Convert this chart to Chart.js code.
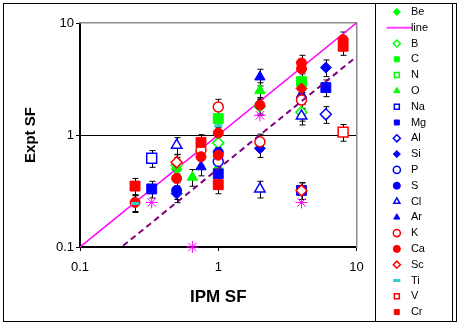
<!DOCTYPE html>
<html>
<head>
<meta charset="utf-8">
<script src="https://cdn.jsdelivr.net/npm/chart.js@4/dist/chart.umd.min.js"></script>
<style>
  html, body { margin: 0; padding: 0; background: #fff; }
  #wrap { width: 462px; height: 324px; }
</style>
</head>
<body>
<div id="wrap"><canvas id="sf"></canvas></div>
<script>
// [IPM SF, Expt SF] pairs
const BE = [[0.5, 0.49], [1, 0.5]];
const LINE = [[0.1, 0.1], [10, 10]];
const B = [[0.5, 0.54], [1, 0.85], [2, 1.8], [4, 1.6]];
const C = [[1, 1.4], [4, 3.0]];
const N = [];
const O = [[0.5, 0.52], [0.65, 0.42], [2, 2.5]];
const NA = [[0.33, 0.62]];
const MG = [[0.33, 0.33], [1, 0.45], [4, 0.32], [6, 2.65]];
const AL = [[6, 1.53]];
const SI = [[0.5, 0.3], [2, 0.76], [6, 4.0]];
const P = [[1, 0.58]];
const S = [[0.5, 0.32], [1, 0.7]];
const CL = [[0.5, 0.81], [2, 0.33], [4, 1.48]];
const AR = [[0.75, 0.52], [2, 3.3], [4, 2.3]];
const K = [[0.75, 0.73], [1, 1.78], [2, 0.87], [4, 2.05]];
const CA = [[0.25, 0.25], [0.5, 0.41], [0.75, 0.64], [1, 1.04], [1, 0.66], [2, 1.85], [4, 4.4], [4, 3.9], [8, 7.1]];
const SC = [[0.5, 0.57], [4, 0.32]];
const TI = [[0.25, 0.245], [1, 1.21]];
const V = [[8, 1.06]];
const CR = [[0.25, 0.35], [0.75, 0.86], [1, 0.36], [8, 6.2]];
// series beyond the visible legend
const STAR = [[0.33, 0.25], [0.65, 0.1], [2, 1.5], [4, 0.25]];
const RED_DIAMOND = [[4, 2.6]];
const HALF_LINE = [[0.18, 0.09], [10, 5]];

const TICKS = [0.1, 1, 10];
const ERR = 0.17;

const GREEN = '#00FF00', BLUE = '#0000FF', RED = '#FF0000', MAGENTA = '#FF00FF';

const pts = (a) => a.map(([x, y]) => ({ x: x, y: y }));

function marker(label, data, color, style, open, radius) {
  return {
    label: label,
    data: pts(data),
    pointStyle: style,
    pointRadius: radius,
    pointBackgroundColor: open ? '#fff' : color,
    pointBorderColor: color,
    pointBorderWidth: open ? 1.5 : 1,
    backgroundColor: open ? '#fff' : color,
    borderColor: color,
    borderWidth: open ? 1.5 : 1,
    showLine: false,
    errorBars: true
  };
}

const lineIcon = document.createElement('canvas');
lineIcon.width = 30;
lineIcon.height = 4;
const lg = lineIcon.getContext('2d');
lg.strokeStyle = MAGENTA;
lg.lineWidth = 1.5;
lg.beginPath();
lg.moveTo(0, 2);
lg.lineTo(30, 2);
lg.stroke();

const datasets = [
  marker('Be', BE, GREEN, 'rectRot', false, 5),
  {
    label: 'line', data: pts(LINE), showLine: true, borderColor: MAGENTA, borderWidth: 1.5,
    backgroundColor: MAGENTA, pointRadius: 0, pointStyle: lineIcon
  },
  marker('B', B, GREEN, 'rectRot', true, 5.5),
  marker('C', C, GREEN, 'rect', false, 7),
  marker('N', N, GREEN, 'rect', true, 7),
  marker('O', O, GREEN, 'triangle', false, 6),
  marker('Na', NA, BLUE, 'rect', true, 7),
  marker('Mg', MG, BLUE, 'rect', false, 7),
  marker('Al', AL, BLUE, 'rectRot', true, 5.5),
  marker('Si', SI, BLUE, 'rectRot', false, 5.5),
  marker('P', P, BLUE, 'circle', true, 5),
  marker('S', S, BLUE, 'circle', false, 5),
  marker('Cl', CL, BLUE, 'triangle', true, 6),
  marker('Ar', AR, BLUE, 'triangle', false, 6),
  marker('K', K, RED, 'circle', true, 5),
  marker('Ca', CA, RED, 'circle', false, 5),
  marker('Sc', SC, RED, 'rectRot', true, 5.5),
  Object.assign(marker('Ti', TI, '#33CCCC', 'line', false, 4), { pointBorderWidth: 3, borderWidth: 3 }),
  marker('V', V, RED, 'rect', true, 7),
  marker('Cr', CR, RED, 'rect', false, 7),
  Object.assign(marker('Mn', STAR, MAGENTA, 'star', false, 6), { hideLegend: true, clip: false, errorBars: false }),
  Object.assign(marker('Fe', RED_DIAMOND, RED, 'rectRot', false, 5.5), { hideLegend: true }),
  {
    label: 'half', data: pts(HALF_LINE), showLine: true, borderColor: '#800080', borderWidth: 2,
    borderDash: [6, 4], pointRadius: 0, hideLegend: true
  }
];
// later series sit on top, as in the source sheet
datasets.forEach((d, i) => { d.order = -i; });

const errorBars = {
  id: 'errorBars',
  beforeDatasetsDraw(chart) {
    const { ctx, scales: { x, y } } = chart;
    ctx.save();
    ctx.strokeStyle = '#000';
    ctx.lineWidth = 1;
    chart.data.datasets.forEach((ds) => {
      if (!ds.errorBars) return;
      ds.data.forEach((p) => {
        const px = Math.round(x.getPixelForValue(p.x)) + 0.5;
        const top = y.getPixelForValue(p.y * (1 + ERR));
        const bot = y.getPixelForValue(p.y * (1 - ERR));
        ctx.beginPath();
        ctx.moveTo(px, top); ctx.lineTo(px, bot);
        ctx.moveTo(px - 3, top); ctx.lineTo(px + 3, top);
        ctx.moveTo(px - 3, bot); ctx.lineTo(px + 3, bot);
        ctx.stroke();
      });
    });
    ctx.restore();
  }
};

const frames = {
  id: 'frames',
  afterDraw(chart) {
    const ctx = chart.ctx;
    ctx.save();
    ctx.strokeStyle = '#000';
    ctx.lineWidth = 1;
    ctx.strokeRect(3.5, 3.5, 453, 318);
    ctx.strokeRect(375.5, 3.5, 77, 318);
    ctx.restore();
  }
};

const onlyTicks = (scale) => { scale.ticks = TICKS.map((v) => ({ value: v })); };

new Chart(document.getElementById('sf'), {
  type: 'scatter',
  data: { datasets: datasets },
  plugins: [errorBars, frames],
  options: {
    responsive: true,
    maintainAspectRatio: false,
    animation: false,
    layout: { padding: { left: 0, right: 24, top: 0, bottom: 0 } },
    plugins: {
      tooltip: { enabled: false },
      legend: {
        display: true,
        position: 'right',
        labels: {
          usePointStyle: true,
          boxHeight: 5,
          padding: 4.8,
          color: '#000',
          font: { family: 'Liberation Sans, Arial, sans-serif', size: 11 },
          generateLabels(chart) {
            const items = Chart.defaults.plugins.legend.labels.generateLabels(chart);
            items.forEach((it) => { it.text = ' ' + it.text; });
            return items;
          },
          filter: (item, data) => !data.datasets[item.datasetIndex].hideLegend,
          sort: (a, b) => a.datasetIndex - b.datasetIndex
        }
      }
    },
    scales: {
      x: {
        type: 'logarithmic',
        position: 'bottom',
        min: 0.1,
        max: 10,
        afterBuildTicks: onlyTicks,
        afterFit: (s) => { s.height = 77; },
        border: { color: '#000', width: 2 },
        grid: { color: 'rgba(0,0,0,0)', tickColor: '#000', tickLength: 4 },
        ticks: {
          color: '#000',
          padding: 9,
          maxRotation: 0,
          font: { family: 'Liberation Sans, Arial, sans-serif', size: 13 },
          callback: (v) => String(v)
        },
        title: {
          display: true,
          text: 'IPM SF',
          color: '#000',
          padding: { top: 0, bottom: 16 },
          font: { family: 'Liberation Sans, Arial, sans-serif', size: 17, weight: 'bold' }
        }
      },
      y: {
        type: 'logarithmic',
        position: 'left',
        min: 0.1,
        max: 10,
        afterBuildTicks: onlyTicks,
        afterFit: (s) => { s.width = 80; },
        border: { color: '#000', width: 2 },
        grid: {
          color: (c) => (c.tick && c.tick.value === 1 ? '#000' : 'rgba(0,0,0,0)'),
          tickColor: '#000',
          tickLength: 4
        },
        ticks: {
          color: '#000',
          padding: 2,
          font: { family: 'Liberation Sans, Arial, sans-serif', size: 13 },
          callback: (v) => String(v)
        },
        title: {
          display: true,
          text: 'Expt SF',
          color: '#000',
          padding: { top: 22, bottom: 0 },
          font: { family: 'Liberation Sans, Arial, sans-serif', size: 15, weight: 'bold' }
        }
      },
      x2: {
        type: 'linear',
        position: 'top',
        display: true,
        afterFit: (s) => { s.height = 23; },
        border: { color: '#8c8c8c', width: 1.5 },
        grid: { display: false },
        ticks: { display: false }
      },
      y2: {
        type: 'linear',
        position: 'right',
        display: true,
        afterFit: (s) => { s.width = 30; },
        border: { color: '#8c8c8c', width: 1.5 },
        grid: { display: false },
        ticks: { display: false }
      }
    }
  }
});
</script>
</body>
</html>
